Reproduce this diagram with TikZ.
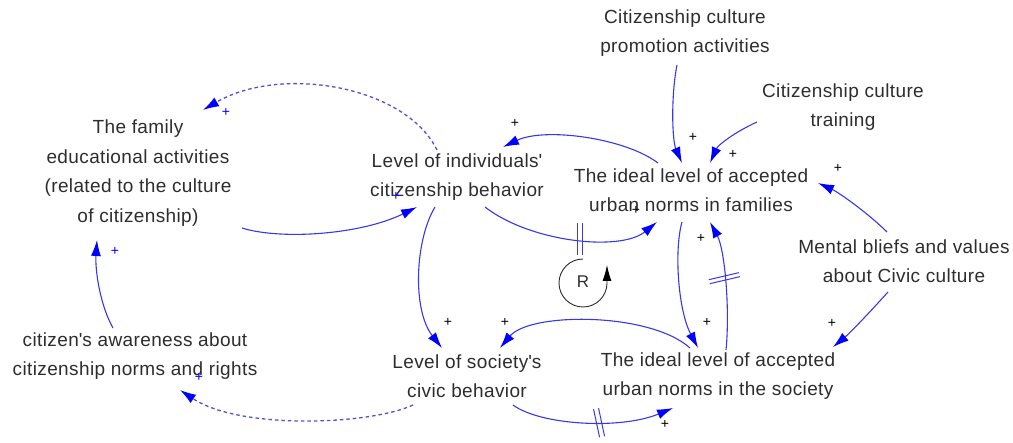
\documentclass[tikz,border=0pt]{standalone}
\usepackage{fontspec}
\setmainfont{Liberation Sans}[LetterSpace=2]
\usetikzlibrary{arrows.meta}
\definecolor{txtgray}{RGB}{45,45,45}
\definecolor{linkblue}{RGB}{55,55,235}
\definecolor{dashblue}{RGB}{80,80,215}
\newcommand{\apos}{\textquotesingle}
\begin{document}
\begin{tikzpicture}[x=1pt,y=-1pt,
  txt/.style={align=center, text=txtgray, font=\fontsize{19}{29.5}\selectfont, inner sep=0pt},
  link/.style={draw=linkblue, line width=1.1pt, -{Latex[length=16pt,width=10pt,blue]}},
  dlink/.style={link, draw=dashblue, line width=1.3pt, dash pattern=on 3.5pt off 3pt},
  delay/.style={draw=linkblue, line width=1pt},
  pl/.style={font=\fontsize{14}{14}\selectfont, inner sep=0pt, text=black},
  plb/.style={pl, text=blue}]
\useasboundingbox (0,0) rectangle (1013,443);

% variables
\node[txt] (promo)   at (685,33)  {Citizenship culture\\promotion activities};
\node[txt] (train)   at (843,107) {Citizenship culture\\training};
\node[txt] (fam)     at (138,173) {The family\\educational activities\\(related to the culture\\of citizenship)};
\node[txt] (ind)     at (457,177) {Level of individuals\apos\\citizenship behavior};
\node[txt] (famnorm) at (691,190) {The ideal level of accepted\\urban norms in families};
\node[txt] (mental)  at (904,261) {Mental bliefs and values\\about Civic culture};
\node[txt] (aware)   at (135,356) {citizen\apos s awareness about\\citizenship norms and rights};
\node[txt] (soc)     at (467,376) {Level of society\apos s\\civic behavior};
\node[txt] (socnorm) at (718,376) {The ideal level of accepted\\urban norms in the society};

% causal links
\draw[link] ([shift={(-8,32)}]promo.center) .. controls (671,95) and (672,140) .. ([shift={(-9,-27)}]famnorm.center);
\draw[link] ([shift={(-86,15)}]train.center) .. controls (735,132) and (718,145) .. ([shift={(19,-27)}]famnorm.center);
\draw[link] ([shift={(-17,-29)}]mental.center) .. controls (870,215) and (840,193) .. ([shift={(127,-7)}]famnorm.center);
\draw[link] ([shift={(-16,31)}]mental.center) .. controls (870,312) and (850,333) .. ([shift={(115,-29)}]socnorm.center);
\draw[link] ([shift={(-33,-27)}]famnorm.center) .. controls (625,138) and (545,127) .. ([shift={(46,-30)}]ind.center);
\draw[link] ([shift={(28,30)}]ind.center) .. controls (530,242) and (620,252) .. coordinate[pos=0.53] (d1) ([shift={(-34,32)}]famnorm.center);
\draw[link] ([shift={(-22,30)}]ind.center) .. controls (415,240) and (412,310) .. ([shift={(-25,-28)}]soc.center);
\draw[dlink] ([shift={(-20,-27)}]ind.center) .. controls (405,85) and (280,65) .. ([shift={(65,-63)}]fam.center);
\draw[link] ([shift={(104,55)}]fam.center) .. controls (280,240) and (360,235) .. ([shift={(-40,30)}]ind.center);
\draw[link] ([shift={(-22,-28)}]aware.center) .. controls (100,305) and (95,270) .. ([shift={(-41,67)}]fam.center);
\draw[dlink] ([shift={(-54,29)}]soc.center) .. controls (370,425) and (240,430) .. ([shift={(45,34)}]aware.center);
\draw[link] ([shift={(46,29)}]soc.center) .. controls (540,425) and (620,430) .. coordinate[pos=0.6] (d2) ([shift={(-45,32)}]socnorm.center);
\draw[link] ([shift={(-28,-28)}]socnorm.center) .. controls (650,312) and (530,312) .. ([shift={(33,-28)}]soc.center);
\draw[link] ([shift={(-9,32)}]famnorm.center) .. controls (674,250) and (678,310) .. ([shift={(-20,-28)}]socnorm.center);
\draw[link] ([shift={(8,-26)}]socnorm.center) .. controls (730,310) and (725,250) .. coordinate[pos=0.52] (d3) ([shift={(19,32)}]famnorm.center);

% delay marks
\draw[delay] ([shift={(-2.5,-16)}]d1) -- ([shift={(-2.5,16)}]d1);
\draw[delay] ([shift={(2.5,-16)}]d1) -- ([shift={(2.5,16)}]d1);
\draw[delay] ([shift={(-8,-13)}]d2) -- ([shift={(-2,15)}]d2);
\draw[delay] ([shift={(-3,-14)}]d2) -- ([shift={(3,14)}]d2);
\draw[delay] ([shift={(-16,1)}]d3) -- ([shift={(14,-6)}]d3);
\draw[delay] ([shift={(-15,5)}]d3) -- ([shift={(15,-2)}]d3);

% loop marker (y axis points down, so angles run clockwise on the page)
\node[txt, font=\fontsize{17}{17}\selectfont] (loopR) at (583,282) {R};
\draw[line width=0.9pt, draw=txtgray, -{Latex[length=16pt,width=9pt,black]}]
  ([shift={(0,-23)}]loopR.center) arc[start angle=270, end angle=0, radius=24] -- ++(0,-18);

% polarities
\node[pl] (p1) at (515,123) {+};
\node[pl] (p2) at (693,137) {+};
\node[pl] (p3) at (733,154) {+};
\node[pl] (p4) at (838,168) {+};
\node[pl] (p5) at (448,322) {+};
\node[pl] (p6) at (505,322) {+};
\node[pl] (p7) at (707,322) {+};
\node[pl] (p8) at (665,424) {+};
\node[pl] (p9) at (832,323) {+};
\node[pl] (p10) at (701,238) {+};
\node[pl] (p11) at (636,210) {+};
\node[plb] (p12) at (226,112) {+};
\node[plb] (p13) at (115,251) {+};
\node[plb] (p14) at (396,196) {+};
\node[plb] (p15) at (199,377) {+};
\end{tikzpicture}
\end{document}
